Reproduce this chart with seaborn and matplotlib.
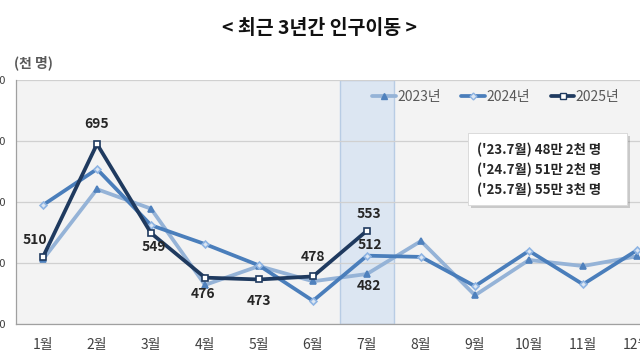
import matplotlib
matplotlib.use("Agg")
import matplotlib.pyplot as plt
import matplotlib.patheffects as pe
from matplotlib.lines import Line2D
from matplotlib.patches import Rectangle
import numpy as np
import pandas as pd
import seaborn as sns

months = ["1월", "2월", "3월", "4월", "5월", "6월", "7월", "8월", "9월", "10월", "11월", "12월"]
y2023 = [506, 621, 589, 464, 495, 470, 482, 536, 447, 505, 495, 511]
y2024 = [595, 654, 562, 531, 496, 438, 512, 510, 462, 520, 465, 521]
y2025 = [510, 695, 549, 476, 473, 478, 553]
yticks = [400, 500, 600, 700, 800]

# label offsets (pixels) for the 2025 series
lab2025 = [(-8, 17), (0, 20), (3, -14), (-2, -16), (0, -22), (0, 19), (2, 17)]

sns.set_theme(style="white")
plt.rcParams["font.family"] = ["Noto Sans CJK KR", "DejaVu Sans"]

rows = []
for year, vals in (("2023년", y2023), ("2024년", y2024), ("2025년", y2025)):
    for i, v in enumerate(vals):
        rows.append({"year": year, "idx": i, "value": v})
df = pd.DataFrame(rows)

fig = plt.figure(figsize=(6.4, 3.6), dpi=100)
ax = fig.add_axes([16 / 640, 36 / 360, 648 / 640, 244 / 360])
ax.set_facecolor("#f3f3f3")

# highlight band for 7월
ax.axvspan(5.5, 6.5, facecolor="#dce6f2", edgecolor="#b8cce4", lw=1, zorder=0.5)

styles = {
    "2023년": dict(color="#95b3d7", marker="^", mfc="#4f81bd", mec="#4f81bd", ms=5),
    "2024년": dict(color="#4a7ebb", marker="D", mfc="#dce6f2", mec="#8eb4e3", ms=3.5),
    "2025년": dict(color="#1f3a5f", marker="s", mfc="white", mec="#1f3a5f", ms=4.5),
}
for year, st in styles.items():
    sub = df[df.year == year]
    sns.lineplot(data=sub, x="idx", y="value", ax=ax, color=st["color"], lw=2.7,
                 marker=st["marker"], markersize=st["ms"], markerfacecolor=st["mfc"],
                 markeredgecolor=st["mec"], markeredgewidth=1.2, zorder=3)

ax.set_xlim(-0.5, 11.5)
ax.set_ylim(400, 800)
ax.set_yticks(yticks)
ax.set_yticklabels([str(t) for t in yticks], fontsize=8, color="#404040")
ax.yaxis.grid(True, color="#d0d0d0", lw=0.9)
ax.set_axisbelow(True)
ax.set_xticks(range(12))
ax.set_xticklabels(months, fontsize=10, color="#404040")
ax.set_xticks(np.arange(-0.5, 12, 1), minor=True)
ax.tick_params(axis="x", which="major", length=0, pad=10)
ax.tick_params(axis="x", which="minor", length=4, color="#909090", width=0.8, direction="out")
ax.tick_params(axis="y", length=4, color="#909090", width=0.8, direction="in", pad=7)
ax.set_xlabel("")
ax.set_ylabel("")
for s in ("top", "right"):
    ax.spines[s].set_visible(False)
for s in ("left", "bottom"):
    ax.spines[s].set_color("#a0a0a0")
    ax.spines[s].set_linewidth(0.9)

lab_kw = dict(textcoords="offset pixels", ha="center", va="center", fontsize=10,
              fontweight="bold", color="#262626", zorder=5)
for i, (v, off) in enumerate(zip(y2025, lab2025)):
    ax.annotate(str(v), (i, v), xytext=off, **lab_kw)
ax.annotate(str(y2024[6]), (6, y2024[6]), xytext=(3, 11), **lab_kw)
ax.annotate(str(y2023[6]), (6, y2023[6]), xytext=(2, -12), **lab_kw)

handles = [Line2D([], [], color=st["color"], lw=2.7, marker=st["marker"], markersize=st["ms"],
                  markerfacecolor=st["mfc"], markeredgecolor=st["mec"]) for st in styles.values()]
leg = ax.legend(handles, list(styles.keys()), loc="center left", bbox_to_anchor=(0.53, 0.93),
                ncol=3, frameon=False, fontsize=10, handlelength=1.7, handletextpad=0.1,
                columnspacing=1.5)
for t in leg.get_texts():
    t.set_color("#595959")

# note box
box = Rectangle((468 / 640, 1 - 205 / 360), 159 / 640, 72 / 360, transform=fig.transFigure,
                facecolor="white", edgecolor="#d8d8d8", lw=0.6, zorder=4)
box.set_path_effects([pe.withSimplePatchShadow(offset=(2, -2), alpha=0.25), pe.Normal()])
fig.add_artist(box)
box_text = "('23.7월) 48만 2천 명\n('24.7월) 51만 2천 명\n('25.7월) 55만 3천 명"
fig.text(477 / 640, 1 - 170 / 360, box_text, ha="left", va="center", fontsize=9.6,
         fontweight="bold", color="#262626", linespacing=1.45, zorder=5)

fig.text(0.5, 1 - 28 / 360, "< 최근 3년간 인구이동 >", ha="center", va="center",
         fontsize=14, fontweight="bold", color="#111111")
fig.text(14 / 640, 1 - 63 / 360, "(천 명)", ha="left", va="center", fontsize=10,
         fontweight="bold", color="#595959")

fig.savefig("out.png", dpi=100)
